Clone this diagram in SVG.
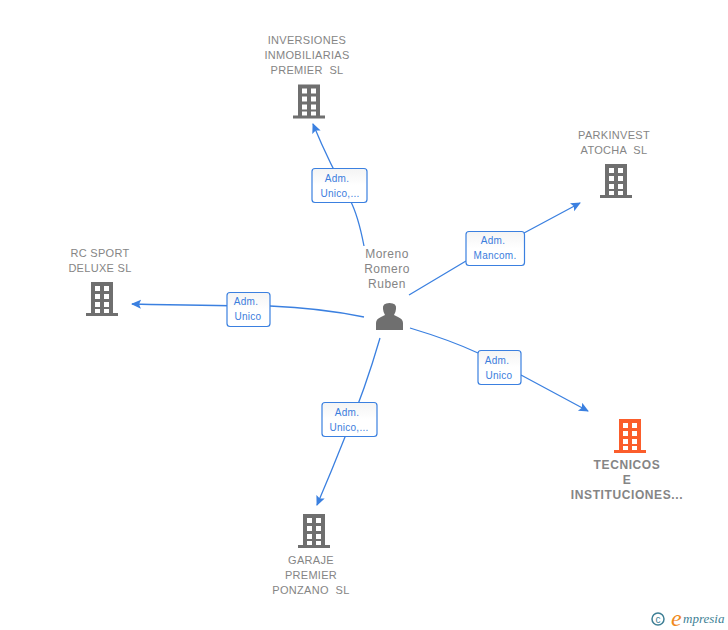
<svg xmlns="http://www.w3.org/2000/svg" width="728" height="630" viewBox="0 0 728 630">
<style>
.n{font-family:"Liberation Sans",Arial,sans-serif;font-size:11px;fill:#858585;text-anchor:middle;letter-spacing:.3px;white-space:pre}
.p{font-size:12px;letter-spacing:.5px}
.o{font-weight:bold;font-size:12px;letter-spacing:.6px}
.l{font-family:"Liberation Sans",Arial,sans-serif;font-size:10px;fill:#3b7ddd;text-anchor:middle;letter-spacing:.25px}
.c{fill:none;stroke:#3b80e0;stroke-width:1.3}
.b{fill:#fff;stroke:#3b80e0;stroke-width:1.2}
</style>
<defs>
<marker id="a" markerWidth="12" markerHeight="10" refX="9" refY="4.5" orient="auto" markerUnits="userSpaceOnUse"><path d="M0 0L10 4.500L0 9L2 4.500Z" fill="#3b80e0"/></marker>
<linearGradient id="g" x1="0" y1="0" x2="0" y2="1"><stop offset="0" stop-color="#f4f4f4"/><stop offset=".5" stop-color="#fff"/></linearGradient>
<symbol id="bd" viewBox="0 0 32 34" overflow="visible">
<path fill-rule="evenodd" d="M5 0H27V31H32V34H0V31H5ZM9 4V9H14V4ZM18 4V9H23V4ZM9 12V17H14V12ZM18 12V17H23V12ZM9 20V25H14V20ZM18 20V25H23V20ZM9 27V31H14V27ZM18 27V31H23V27Z"/>
</symbol>
</defs>
<g id="connectors">
<path class="c" d="M364 246Q358 215 350 200Q330 165 313 124" marker-end="url(#a)"/>
<path class="c" d="M409 295L466 261M524 233L580 203" marker-end="url(#a)"/>
<path class="c" d="M364 317Q320 308 270 306Q220 306 132 304" marker-end="url(#a)"/>
<path class="c" d="M380 338Q365 390 345 437Q332 470 317 505" marker-end="url(#a)"/>
<path class="c" d="M410 328Q450 340 478 353M521 375L588 411" marker-end="url(#a)"/>
</g>
<g id="edge-labels">
<g><rect class="b" style="fill:url(#g)" x="312" y="168.500" width="55" height="34" rx="3"/><text class="l" x="337" y="182">Adm.</text><text class="l" x="340" y="197">Unico,...</text></g>
<g><rect class="b" style="fill:url(#g)" x="466" y="231.500" width="58.500" height="34" rx="3"/><text class="l" x="493" y="244">Adm.</text><text class="l" x="495" y="259">Mancom.</text></g>
<g><rect class="b" style="fill:url(#g)" x="227" y="292.500" width="43" height="34" rx="3"/><text class="l" x="246" y="305">Adm.</text><text class="l" x="248" y="320">Unico</text></g>
<g><rect class="b" style="fill:url(#g)" x="478" y="350.500" width="43" height="34" rx="3"/><text class="l" x="497" y="364">Adm.</text><text class="l" x="499" y="379">Unico</text></g>
<g><rect class="b" style="fill:url(#g)" x="322" y="402.500" width="55" height="34" rx="3"/><text class="l" x="347" y="416">Adm.</text><text class="l" x="349" y="431">Unico,...</text></g>
</g>
<g id="person"><text class="n p" x="387" y="258">Moreno</text><text class="n p" x="387" y="273">Romero</text><text class="n p" x="387" y="288">Ruben</text>
<path fill="#6f6f6f" d="M376 330V323Q376 319 381 317L385 315Q383 311 383 309Q382 303 389.500 303Q397 303 396 309Q396 311 394 315L398 317Q403 319 403 323V330Z"/></g>
<g id="inversiones"><text class="n" x="307" y="44">INVERSIONES</text><text class="n" x="307" y="59">INMOBILIARIAS</text><text class="n" x="307" y="74">PREMIER  SL</text><use href="#bd" x="293" y="84" width="32" height="35" fill="#6f6f6f"/></g>
<g id="parkinvest"><text class="n" x="614" y="139">PARKINVEST</text><text class="n" x="614" y="154">ATOCHA  SL</text><use href="#bd" x="600" y="164" width="32" height="34" fill="#6f6f6f"/></g>
<g id="rcsport"><text class="n" x="100" y="257">RC SPORT</text><text class="n" x="100" y="272">DELUXE SL</text><use href="#bd" x="86" y="282" width="32" height="34" fill="#6f6f6f"/></g>
<g id="tecnicos"><use href="#bd" x="614" y="419" width="32" height="34" fill="#fb5d2b"/><text class="n o" x="627" y="469">TECNICOS</text><text class="n o" x="627" y="484">E</text><text class="n o" x="627" y="499">INSTITUCIONES...</text></g>
<g id="garaje"><use href="#bd" x="298" y="514" width="32" height="34" fill="#6f6f6f"/><text class="n" x="311" y="564">GARAJE</text><text class="n" x="311" y="579">PREMIER</text><text class="n" x="311" y="594">PONZANO  SL</text></g>
<g id="logo"><circle cx="658" cy="619" r="6" fill="none" stroke="#3e7f95" stroke-width="1.500"/><text x="658" y="622.500" font-family="Liberation Sans,sans-serif" font-size="10" fill="#3e7f95" text-anchor="middle">c</text>
<text x="671" y="626" font-family="Liberation Serif,serif" font-style="italic" font-size="24" fill="#f08a1d">e</text><text x="683" y="623" font-family="Liberation Serif,serif" font-style="italic" font-size="13" fill="#3e7f95">mpresia</text></g>
</svg>
